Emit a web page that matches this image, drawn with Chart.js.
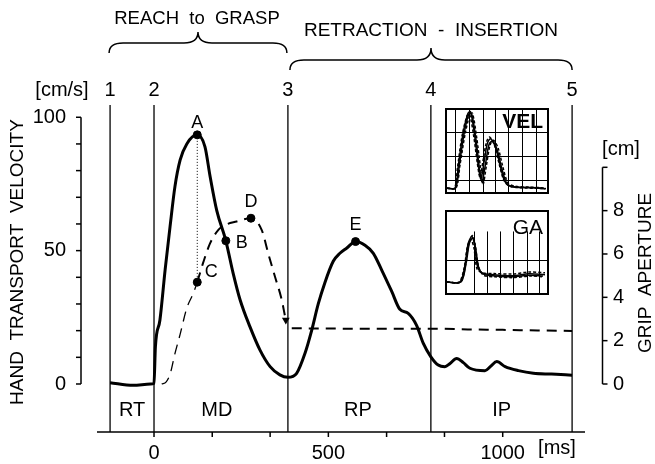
<!DOCTYPE html>
<html>
<head>
<meta charset="utf-8">
<script src="https://cdn.jsdelivr.net/npm/chart.js"></script>
<style>
  body { margin: 0; background: #fff; }
  #wrap { position: relative; width: 655px; height: 464px; }
  #wrap canvas { position: absolute; }
</style>
</head>
<body>
<div id="wrap">
  <canvas id="mainChart" width="655" height="464" style="left:0;top:0"></canvas>
  <canvas id="velInset" width="104" height="86" style="left:445px;top:108px"></canvas>
  <canvas id="gaInset" width="104" height="85" style="left:445px;top:210px"></canvas>
</div>

<script>
// --- hand transport velocity [cm/s] over time [ms]
const velTime = [-126, -60, -10, 0, 4, 17, 32, 46, 60, 75, 94, 124, 146, 161, 180, 206, 227, 247, 275, 304, 333, 361, 384, 409, 433, 452, 471, 490, 514, 533, 553, 578, 605, 629, 653, 682, 705, 729, 753, 772, 794, 815, 834, 849, 868, 887, 906, 949, 966, 983, 1007, 1045, 1088, 1140, 1199];
const velValues = [0.5, -0.5, 0, 0.3, 14, 24, 43, 59, 74, 84, 90, 93.4, 89, 77.7, 65, 53.7, 41.5, 31.5, 21.5, 12.7, 6.5, 3.4, 2.5, 4, 11.5, 20, 30, 38, 46, 49, 51, 53.4, 52, 49, 42.7, 34.6, 28, 26.5, 22, 15.3, 10.2, 7.1, 6.5, 7.7, 9.6, 8, 5.9, 5, 6.7, 8.4, 6.5, 5, 4, 3.7, 3.3];

// --- grip aperture [cm] over time [ms] (null = break at the arrow)
const gaTime = [22, 35, 46, 60, 75, 94, 113, 124, 141, 161, 184, 199, 237, 278, 309, 328, 347, 366, 376, 386, 395, 500, 600, 700, 800, 900, 1000, 1100, 1199];
const gaValues = [0, 0.1, 0.45, 1.4, 2.3, 3.5, 4.2, 4.7, 5.6, 6.5, 7.1, 7.3, 7.5, 7.65, 7.1, 6.0, 4.95, 3.9, 3.1, null, 2.57, 2.56, 2.55, 2.55, 2.55, 2.52, 2.5, 2.47, 2.45];

// marked points
const velMarkLabels = ['A', 'B', 'E'];
const velMarkTime = [124, 206, 578];
const velMarkValues = [93.4, 53.7, 53.4];
const gaMarkLabels = ['C', 'D'];
const gaMarkTime = [124, 278];
const gaMarkValues = [4.7, 7.65];
const arrowTime = [378];
const arrowValue = [2.95];

// phases
const phaseTimes = [-126, 0, 384, 794, 1199];
const phaseNumbers = ['1', '2', '3', '4', '5'];
const phaseNames = ['RT', 'MD', 'RP', 'IP'];
const phaseNameTime = [-63, 180, 585, 997];

// axes
const timeTicks = [0, 167, 333, 500, 667, 833, 1000];
const timeLabels = [0, 500, 1000];
const velTicks = [0, 10, 20, 30, 40, 50, 60, 70, 80, 90, 100];
const velLabels = [0, 50, 100];
const gaTicks = [0, 2, 4, 6, 8, 10];
const gaLabels = [0, 2, 4, 6, 8];

// insets (normalised 0..100)
const velInsetX = [
  [0, 8, 11.3, 16, 21, 23.5, 27.4, 31.3, 33.9, 37, 40.3, 43.5, 48.4, 53.2, 58, 64.5, 79, 92, 98],
  [0, 8.5, 12.5, 17.5, 22.5, 25, 29, 32.5, 35, 38.5, 42, 45.5, 50, 55, 60, 67, 80, 93, 99],
  [0, 7.5, 10.5, 15, 20, 22.5, 26.5, 30.5, 33, 36, 39.5, 42.5, 47.5, 52, 57, 63, 78, 91, 97],
  [0, 9, 13, 18, 23, 25.5, 29.5, 33.5, 36, 39.5, 43, 46.5, 51, 56, 61, 68, 82, 94, 99]
];
const velInsetY = [
  [4.7, 4.7, 32, 71, 96, 98, 71, 32, 16, 36, 59, 65, 55, 32, 12.5, 6.6, 5.4, 4.7, 3.9],
  [4.7, 4.7, 34, 74, 97, 94, 64, 28, 13, 34, 58, 62, 52, 28, 10, 6, 5.5, 5, 4],
  [4.7, 4.7, 30, 68, 93, 95, 70, 34, 18, 38, 61, 67, 57, 35, 14, 7, 5, 4.5, 4.2],
  [4.7, 4.7, 33, 70, 95, 96, 68, 30, 9, 33, 57, 63, 54, 30, 11, 7, 6, 5.2, 4.5]
];
const gaInsetX = [
  [0, 12.9, 17.7, 21, 24.8, 27.4, 30.6, 35.5, 46.8, 66, 82, 98],
  [0, 14, 19, 22.5, 26, 28.5, 32, 37, 48, 66, 82, 96],
  [0, 12, 17, 20.5, 24, 27, 30, 35, 47, 66, 82, 98],
  [0, 13.5, 18.5, 22, 25.5, 28, 31.5, 36.5, 48, 66, 84, 97]
];
const gaInsetY = [
  [13.5, 13.5, 32.5, 60, 70, 60, 32.5, 24.6, 22.6, 21.4, 23.8, 22.6],
  [13.5, 13.5, 36, 62, 68, 56, 30, 23, 21, 20, 22, 21],
  [13.5, 13.5, 30, 58, 66, 55, 30, 25, 24, 23.5, 26, 25],
  [13.5, 13.5, 34, 62, 71, 61, 33, 22, 20, 19, 21, 20]
];
const velGridX = [8.1, 21.9, 35.5, 48.4, 61.3, 75.2, 88.7];
const velGridY = [14.4, 43.6, 72.8];
const gaGridX = [26.5, 40.3, 53.2, 66, 79.7, 92];
const gaGridY = [40.5];

const FONT = '"Liberation Sans", Arial, Helvetica, sans-serif';

function pts(xs, ys) { return xs.map((x, i) => ({ x: x, y: ys[i] })); }

function line(ctx, x0, y0, x1, y1) {
  ctx.beginPath(); ctx.moveTo(x0, y0); ctx.lineTo(x1, y1); ctx.stroke();
}

function text(ctx, s, x, y, size, align, rot) {
  ctx.save();
  ctx.font = size + 'px ' + FONT;
  ctx.textAlign = align || 'center';
  ctx.textBaseline = 'middle';
  ctx.translate(x, y);
  if (rot) ctx.rotate(rot);
  ctx.fillText(s, 0, 0);
  ctx.restore();
}

function brace(ctx, x0, x1, yEnd, yBar, yTip) {
  const xc = (x0 + x1) / 2, r = 14;
  ctx.beginPath();
  ctx.moveTo(x0, yEnd);
  ctx.quadraticCurveTo(x0, yBar, x0 + r, yBar);
  ctx.lineTo(xc - r, yBar);
  ctx.quadraticCurveTo(xc, yBar, xc, yTip);
  ctx.quadraticCurveTo(xc, yBar, xc + r, yBar);
  ctx.lineTo(x1 - r, yBar);
  ctx.quadraticCurveTo(x1, yBar, x1, yEnd);
  ctx.stroke();
}

const decor = {
  id: 'decor',
  beforeDatasetsDraw(chart) {
    const { ctx, chartArea: a, scales: { x } } = chart;
    ctx.save();
    ctx.strokeStyle = '#000';
    ctx.lineWidth = 1.3;
    phaseTimes.forEach(t => {
      const px = x.getPixelForValue(t);
      line(ctx, px, a.top, px, a.bottom);
    });
    ctx.restore();
  },
  afterDatasetsDraw(chart) {
    const { ctx, chartArea: a, scales: { x, y, y2 } } = chart;
    ctx.save();
    ctx.strokeStyle = '#000';
    ctx.fillStyle = '#000';

    // dotted line from A down to C
    ctx.lineWidth = 1;
    ctx.setLineDash([1, 2]);
    line(ctx, x.getPixelForValue(velMarkTime[0]), y.getPixelForValue(velMarkValues[0]),
         x.getPixelForValue(gaMarkTime[0]), y2.getPixelForValue(gaMarkValues[0]));
    ctx.setLineDash([]);

    // time axis
    ctx.lineWidth = 1.5;
    line(ctx, a.left, a.bottom, a.right, a.bottom);
    timeTicks.forEach(t => {
      const px = x.getPixelForValue(t);
      line(ctx, px, a.bottom, px, a.bottom + 5);
    });
    timeLabels.forEach(t => text(ctx, String(t), x.getPixelForValue(t), 453, 20));
    text(ctx, '[ms]', 557, 448, 20);

    // velocity axis (left)
    const lx = 81;
    line(ctx, lx, y.getPixelForValue(0), lx, y.getPixelForValue(100));
    velTicks.forEach(v => {
      const py = y.getPixelForValue(v);
      line(ctx, lx - 5, py, lx, py);
    });
    velLabels.forEach(v => text(ctx, String(v), 66, y.getPixelForValue(v), 20, 'right'));
    text(ctx, '[cm/s]', 62, 90, 20);
    text(ctx, 'HAND  TRANSPORT  VELOCITY', 18, 262, 19, 'center', -Math.PI / 2);

    // aperture axis (right)
    const rx = 602.5;
    line(ctx, rx, y2.getPixelForValue(0), rx, y2.getPixelForValue(10));
    gaTicks.forEach(v => {
      const py = y2.getPixelForValue(v);
      line(ctx, rx, py, rx + 5, py);
    });
    gaLabels.forEach(v => text(ctx, String(v), 613, y2.getPixelForValue(v), 20, 'left'));
    text(ctx, '[cm]', 621, 149, 20);
    text(ctx, 'GRIP  APERTURE', 646, 273, 19, 'center', -Math.PI / 2);

    // phase numbers, names and braces
    phaseTimes.forEach((t, i) => text(ctx, phaseNumbers[i], x.getPixelForValue(t), 90, 20));
    phaseNames.forEach((n, i) => text(ctx, n, x.getPixelForValue(phaseNameTime[i]), 410, 20));
    ctx.lineWidth = 1.5;
    const p = phaseTimes.map(t => x.getPixelForValue(t));
    brace(ctx, p[0] - 1, p[2] - 1, 53, 43, 32);
    brace(ctx, p[2] + 2, p[4], 70, 60, 48);
    text(ctx, 'REACH  to  GRASP', (p[0] + p[2]) / 2 - 2, 19, 18.5);
    text(ctx, 'RETRACTION  -  INSERTION', (p[2] + p[4]) / 2 + 1, 31, 19);

    // point letters
    const vm = chart.getDatasetMeta(3).data;
    const gm = chart.getDatasetMeta(4).data;
    const velOff = [[0, -12], [16, 2], [0, -17]];
    const gaOff = [[14, -10], [0, -16]];
    vm.forEach((el, i) => text(ctx, velMarkLabels[i], el.x + velOff[i][0], el.y + velOff[i][1], 18));
    gm.forEach((el, i) => text(ctx, gaMarkLabels[i], el.x + gaOff[i][0], el.y + gaOff[i][1], 18));
    ctx.restore();
  }
};

new Chart(document.getElementById('mainChart'), {
  type: 'line',
  data: {
    datasets: [
      {
        label: 'velocity',
        data: pts(velTime, velValues),
        yAxisID: 'y',
        borderColor: '#000',
        borderWidth: 3,
        pointRadius: 0,
        cubicInterpolationMode: 'monotone'
      },
      {
        label: 'aperture',
        data: pts(gaTime, gaValues),
        yAxisID: 'y2',
        borderColor: '#000',
        borderWidth: 2,
        borderDash: [10, 7],
        pointRadius: 0,
        spanGaps: false,
        cubicInterpolationMode: 'monotone',
        segment: { borderWidth: c => c.p0.parsed.x < 120 ? 1.3 : 2 }
      },
      {
        label: 'arrow',
        data: pts(arrowTime, arrowValue),
        yAxisID: 'y2',
        showLine: false,
        pointStyle: 'triangle',
        rotation: 180,
        pointRadius: 4.5,
        backgroundColor: '#000',
        borderColor: '#000',
        borderWidth: 0
      },
      {
        label: 'velocity marks',
        data: pts(velMarkTime, velMarkValues),
        yAxisID: 'y',
        showLine: false,
        pointRadius: 4,
        backgroundColor: '#000',
        borderColor: '#000'
      },
      {
        label: 'aperture marks',
        data: pts(gaMarkTime, gaMarkValues),
        yAxisID: 'y2',
        showLine: false,
        pointRadius: 4,
        backgroundColor: '#000',
        borderColor: '#000'
      }
    ]
  },
  options: {
    responsive: false,
    animation: false,
    layout: { padding: { left: 97, right: 70, top: 105, bottom: 32 } },
    plugins: { legend: { display: false }, tooltip: { enabled: false } },
    scales: {
      x: { type: 'linear', min: -163.5, max: 1236, display: false },
      y: { type: 'linear', min: -18, max: 104.6, display: false },
      y2: { type: 'linear', min: -2.215, max: 12.875, display: false }
    }
  },
  plugins: [decor]
});

function insetPlugin(name, gridX, gridY, gridTop, bold) {
  return {
    id: 'inset' + name,
    beforeDatasetsDraw(chart) {
      const { ctx, chartArea: a, scales: { x, y } } = chart;
      ctx.save();
      ctx.strokeStyle = '#000';
      ctx.lineWidth = 1;
      gridX.forEach(v => {
        const px = Math.round(x.getPixelForValue(v)) + 0.5;
        line(ctx, px, a.bottom, px, y.getPixelForValue(gridTop));
      });
      gridY.forEach(v => {
        const py = Math.round(y.getPixelForValue(v)) + 0.5;
        line(ctx, a.left, py, a.right, py);
      });
      ctx.restore();
    },
    afterDatasetsDraw(chart) {
      const { ctx, width, height } = chart;
      ctx.save();
      ctx.strokeStyle = '#000';
      ctx.lineWidth = 2;
      ctx.strokeRect(1, 1, width - 2, height - 2);
      ctx.fillStyle = '#000';
      ctx.font = (bold ? 'bold ' : '') + '21px ' + FONT;
      ctx.textAlign = 'right';
      ctx.textBaseline = 'middle';
      ctx.fillText(name, width - 6, bold ? 14 : 18);
      ctx.restore();
    }
  };
}

function inset(id, name, xs, ys, gridX, gridY, gridTop, bold) {
  new Chart(document.getElementById(id), {
    type: 'line',
    data: {
      datasets: xs.map((xa, k) => ({
        data: pts(xa, ys[k]),
        borderColor: '#000',
        borderWidth: 1.5,
        borderDash: k >= 2 ? [3, 2] : [],
        pointRadius: 0,
        tension: 0.3
      }))
    },
    options: {
      responsive: false,
      animation: false,
      layout: { padding: 2 },
      plugins: { legend: { display: false }, tooltip: { enabled: false } },
      scales: {
        x: { type: 'linear', min: 0, max: 100, display: false },
        y: { type: 'linear', min: 0, max: 100, display: false }
      }
    },
    plugins: [insetPlugin(name, gridX, gridY, gridTop, bold)]
  });
}

inset('velInset', 'VEL', velInsetX, velInsetY, velGridX, velGridY, 100, true);
inset('gaInset', 'GA', gaInsetX, gaInsetY, gaGridX, gaGridY, 76, false);
</script>
</body>
</html>
